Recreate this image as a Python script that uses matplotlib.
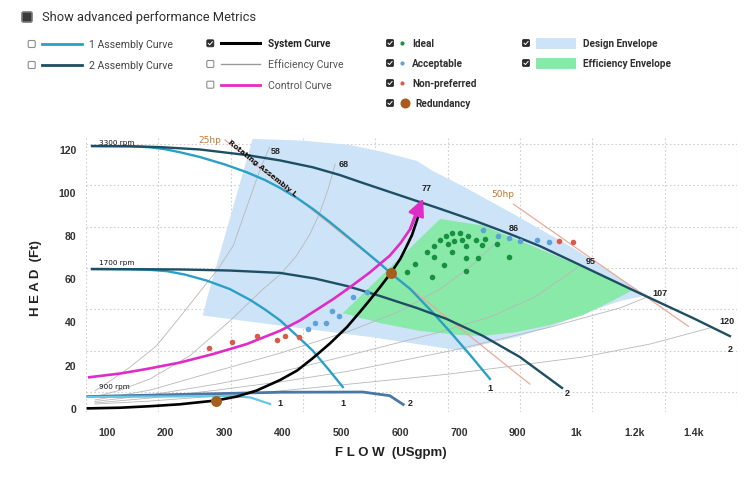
import numpy as np
import matplotlib
matplotlib.use('Agg')
import matplotlib.pyplot as plt
from matplotlib.patches import Polygon, Rectangle, FancyBboxPatch

# x axis: tick labels are evenly spaced although the flow steps are not
tick_flows = [100, 200, 300, 400, 500, 600, 700, 900, 1000, 1200, 1400]
tick_labels = ['100', '200', '300', '400', '500', '600', '700', '900', '1k', '1.2k', '1.4k']
head_ticks = [0, 20, 40, 60, 80, 100, 120]

# pump curves (flow USgpm, head ft)
a2_3300_q = [74, 139, 190, 258, 338, 395, 451, 497, 531, 600, 668, 755, 874, 938, 1013, 1194, 1399, 1525]
a2_3300_h = [121.6, 121.5, 121.1, 120.0, 117.4, 114.9, 111.7, 108.1, 104.9, 98.6, 92.4, 86.8,
             80.7, 75.1, 66.3, 54.6, 41.6, 33.2]
a1_3300_q = [74, 139, 173, 199, 224, 258, 301, 338, 369, 395, 424, 451, 480, 514, 565, 584,
             617, 656, 685, 738, 806]
a1_3300_h = [121.6, 121.5, 121.0, 120.1, 118.7, 116.5, 113.0, 109.4, 105.8, 102.1, 97.4, 92.3,
             86.2, 78.6, 67.0, 62.4, 55.1, 44.0, 35.2, 24.5, 13.3]
a2_1700_q = [74, 224, 309, 395, 454, 509, 565, 628, 679, 782, 904, 976]
a2_1700_h = [64.4, 64.2, 63.7, 62.6, 60.0, 56.5, 51.9, 46.3, 41.2, 33.3, 23.5, 9.1]
a1_1700_q = [74, 139, 173, 202, 233, 270, 309, 344, 369, 395, 424, 451, 477, 502]
a1_1700_h = [64.4, 64.3, 64.0, 63.4, 61.8, 59.0, 55.1, 50.0, 45.6, 40.5, 33.3, 26.3, 17.9, 9.5]
a2_900_q = [67, 395, 536, 582, 605]
a2_900_h = [5.1, 7.1, 7.2, 5.5, 1.4]
a1_900_q = [67, 309, 344, 378]
a1_900_h = [4.9, 5.3, 4.7, 1.6]

system_q = [67, 122, 173, 224, 287, 321, 355, 395, 424, 451, 480, 509, 531, 548, 565, 584,
            600, 611, 620, 628, 637]
system_h = [-0.4, -0.1, 0.6, 1.5, 3.3, 5.1, 7.9, 12.8, 17.2, 23.0, 29.8, 37.4, 44.4, 50.0,
            55.8, 62.6, 69.1, 75.1, 80.2, 86.7, 94.6]
control_q = [67, 122, 167, 224, 281, 338, 395, 429, 486, 514, 548, 582, 600, 617, 631, 639]
control_h = [14.0, 15.8, 17.9, 20.9, 24.9, 29.5, 35.7, 40.5, 50.5, 55.9, 62.8, 70.6, 76.3,
             83.0, 93.9, 97.2]

hp25_q = [301, 921]
hp25_h = [124.4, 10.9]
hp50_q = [886, 1383]
hp50_h = [94.6, 37.8]

# efficiency curves
eff_names = ['58', '68', '86', '95', '107', '120']
eff_q = [
    [377, 366, 355, 335, 315, 289, 264, 224, 184, 139, 110, 79],
    [489, 477, 463, 446, 423, 396, 366, 309, 241, 173, 122, 79],
    [830, 738, 668, 600, 514, 395, 287, 173, 79],
    [1006, 930, 806, 668, 514, 395, 287, 173, 79],
    [1252, 1150, 1013, 956, 685, 514, 395, 287, 173, 79],
    [1457, 1252, 1024, 685, 514, 395, 287, 173, 79],
]
eff_h = [
    [121.0, 114.2, 106.3, 90.9, 75.3, 64.4, 55.9, 42.1, 28.7, 18.8, 13.3, 7.7],
    [113.3, 101.6, 90.8, 80.7, 70.6, 62.1, 55.1, 40.2, 24.1, 13.3, 8.1, 4.9],
    [77.0, 65.3, 55.1, 44.9, 35.6, 25.3, 17.0, 8.1, 3.5],
    [65.3, 51.4, 42.1, 35.1, 24.4, 16.5, 10.9, 5.8, 2.8],
    [51.9, 46.3, 41.2, 37.4, 26.3, 17.0, 11.9, 8.1, 4.4, 2.1],
    [37.0, 29.5, 23.5, 15.6, 10.9, 7.7, 5.3, 3.0, 1.6],
]

# envelopes
design_q = [348, 429, 514, 571, 629, 656, 714, 874, 995, 1218, 1245, 1150, 1013, 956, 898,
            806, 704, 629, 548, 395, 263, 270]
design_h = [124.9, 124.2, 122.1, 118.8, 114.6, 109.9, 102.9, 90.9, 74.2, 54.2, 52.3, 49.5, 43.0,
            37.4, 32.8, 30.0, 26.5, 29.5, 32.8, 38.1, 42.8, 50.5]
green_q = [668, 782, 909, 1013, 1194, 1116, 1024, 956, 898, 782, 704, 634, 565, 502]
green_h = [87.7, 84.6, 77.0, 65.8, 54.6, 49.1, 43.0, 38.4, 35.1, 33.3, 33.7, 35.6, 39.3, 43.9]

# operating points
ideal_q = [611, 625, 645, 658, 654, 658, 667, 678, 689, 681, 692, 689, 675,
           704, 732, 710, 758, 789, 724, 778, 829, 724, 766, 871, 724]
ideal_h = [63.2, 66.7, 72.2, 69.9, 60.6, 75.3, 78.0, 79.6, 81.2, 76.0, 77.6, 72.5, 66.3,
           81.0, 79.9, 77.9, 78.0, 78.4, 75.0, 75.6, 76.0, 69.4, 69.4, 70.1, 63.6]
accept_q = [443, 454, 474, 484, 496, 520, 543, 781, 835, 871, 904, 933, 953]
accept_h = [36.7, 39.3, 39.3, 45.0, 42.4, 51.3, 53.9, 82.7, 79.6, 78.8, 77.6, 77.9, 76.8]
nonpref_q = [274, 313, 355, 390, 404, 428, 970, 995]
nonpref_h = [27.7, 30.6, 33.4, 31.5, 33.1, 33.0, 77.3, 76.8]
redund_q = [584, 286]
redund_h = [62.4, 3.2]

C_DARK = '#1d4e63'
C_CYAN = '#2aa0c6'
C_900_2 = '#4a78a6'
C_900_1 = '#6cc6e2'
C_MAG = '#df2cc6'
C_HP = '#eba99a'
C_EFF = '#b8b8b8'
C_DESIGN = '#cde3f8'
C_GREEN = '#88e9a8'
C_IDEAL = '#17913f'
C_ACC = '#5ba3d9'
C_NON = '#d75a4b'
C_RED = '#a65d1d'
C_TXT = '#2f2f2f'

pos = np.arange(len(tick_flows), dtype=float)


def fwd(q):
    q = np.asarray(q, dtype=float)
    p = np.interp(q, tick_flows, pos)
    p = np.where(q < tick_flows[0], (q - 100) / 100.0, p)
    p = np.where(q > tick_flows[-1], 10 + (q - 1400) / 200.0, p)
    return p


def inv(p):
    p = np.asarray(p, dtype=float)
    q = np.interp(p, pos, tick_flows)
    q = np.where(p < 0, 100 + 100 * p, q)
    q = np.where(p > 10, 1400 + 200 * (p - 10), q)
    return q


fig = plt.figure(figsize=(7.52, 4.85), dpi=100)
ax = fig.add_axes([86 / 752, 72 / 485, 651 / 752, 275 / 485])
ax.set_xscale('function', functions=(fwd, inv))
ax.set_xlim(float(inv(-0.363)), float(inv(10.746)))
ax.set_ylim(-2.09, 125.8)

ax.set_xticks(tick_flows)
ax.set_xticklabels(tick_labels)
ax.set_yticks(head_ticks)
ax.set_xticks(inv(np.linspace(-0.363, 10.746, 10)), minor=True)
ax.set_yticks(np.linspace(122.6, 7.2, 7), minor=True)
ax.tick_params(which='both', length=0)
ax.tick_params(axis='x', pad=11)
ax.tick_params(axis='y', pad=7)
for lab in ax.get_xticklabels() + ax.get_yticklabels():
    lab.set_fontfamily('Liberation Sans')
    lab.set_fontweight('bold')
    lab.set_fontsize(7.6)
    lab.set_color('#333333')
ax.grid(which='minor', color='#cfcfcf', linestyle=(0, (1.5, 2)), linewidth=0.8)
ax.grid(which='major', visible=False)
ax.set_axisbelow(True)
for s in ax.spines.values():
    s.set_visible(False)

# envelopes
ax.add_patch(Polygon(np.column_stack([design_q, design_h]), closed=True,
                     facecolor=C_DESIGN, edgecolor='none', zorder=1))
ax.add_patch(Polygon(np.column_stack([green_q, green_h]), closed=True,
                     facecolor=C_GREEN, edgecolor='none', zorder=1.2))

# efficiency curves and hp lines
for q, h in zip(eff_q, eff_h):
    ax.plot(q, h, color=C_EFF, lw=0.6, zorder=2)
ax.plot(hp25_q, hp25_h, color=C_HP, lw=0.9, zorder=2)
ax.plot(hp50_q, hp50_h, color=C_HP, lw=0.9, zorder=2)

# pump curves
ax.plot(a2_900_q, a2_900_h, color=C_900_2, lw=2.0, zorder=3)
ax.plot(a1_900_q, a1_900_h, color=C_900_1, lw=1.6, zorder=3)
ax.plot(a1_1700_q, a1_1700_h, color=C_CYAN, lw=1.7, zorder=3)
ax.plot(a2_1700_q, a2_1700_h, color=C_DARK, lw=1.7, zorder=3.1)
ax.plot(a1_3300_q, a1_3300_h, color=C_CYAN, lw=1.7, zorder=3)
ax.plot(a2_3300_q, a2_3300_h, color=C_DARK, lw=1.7, zorder=3.1)

# system and control curves
ax.plot(system_q, system_h, color='black', lw=1.9, zorder=4)
ax.plot(control_q[:-1], control_h[:-1], color=C_MAG, lw=1.9, zorder=4, solid_capstyle='butt')
ax.annotate('', xy=(control_q[-1], control_h[-1]), xytext=(control_q[-3], control_h[-3]),
            arrowprops=dict(arrowstyle='-|>,head_length=0.95,head_width=0.45', color=C_MAG,
                            lw=1.9, mutation_scale=11, shrinkA=0, shrinkB=0), zorder=4.5)

# points
ax.scatter(ideal_q, ideal_h, s=16, color=C_IDEAL, zorder=5, linewidths=0)
ax.scatter(accept_q, accept_h, s=16, color=C_ACC, zorder=5, linewidths=0)
ax.scatter(nonpref_q, nonpref_h, s=16, color=C_NON, zorder=5, linewidths=0)
ax.scatter(redund_q, redund_h, s=62, color=C_RED, zorder=6, linewidths=0)

# curve labels
lbl = dict(fontsize=6.5, fontweight='bold', color='#222222', ha='center', va='center',
           zorder=7, family='Liberation Sans')
eff_lbl_pos = [(388, 119.4), (504, 113.6), (888, 83.8), (1050, 68.3), (1286, 53.6), (1514, 40.4)]
for name, (x, y) in zip(eff_names, eff_lbl_pos):
    ax.text(x, y, name, **lbl)
ax.text(645.6, 102.1, '77', **lbl)
for x, y, t in [(806, 9.5, '1'), (501.7, 2.4, '1'), (394.7, 2.1, '1'),
                (984.5, 7.2, '2'), (616.6, 2.1, '2'), (1527.6, 27.5, '2')]:
    ax.text(x, y, t, **lbl)
for y, t in [(123.6, '3300 rpm'), (67.8, '1700 rpm'), (9.9, '900 rpm')]:
    ax.text(85.8, y, t, fontsize=5.2, color='#111111', ha='left', va='center', zorder=7)
ax.text(275.3, 124.6, '25hp', fontsize=6.5, color='#c07b30', ha='center', va='center',
        zorder=7, clip_on=False)
ax.text(851.5, 99.3, '50hp', fontsize=6.5, color='#c07b30', ha='center', va='center', zorder=7)
ax.text(307.7, 123.9, 'Rotating Assembly L', fontsize=5.3, fontweight='bold', color='#111111',
        rotation=-38.7, rotation_mode='anchor', ha='left', va='center', zorder=7)

fig.text(390.5 / 752, 1 - 453 / 485, 'F L O W  (USgpm)', fontsize=9.5, fontweight='bold',
         family='Liberation Sans', color='#222222', ha='center', va='center')
fig.text(36 / 752, 1 - 278 / 485, 'H E A D  (Ft)', fontsize=9.5, fontweight='bold',
         family='Liberation Sans', color='#222222', ha='center', va='center', rotation=90)

# legend panel drawn in pixel units
ov = fig.add_axes([0, 0, 1, 1])
ov.set_xlim(0, 752)
ov.set_ylim(485, 0)
ov.axis('off')


def checkbox(x, y, checked, size=7.0):
    if checked:
        ov.add_patch(FancyBboxPatch((x - size / 2, y - size / 2), size, size,
                                    boxstyle='round,pad=0,rounding_size=1.2',
                                    fc='#2b2b2b', ec='#2b2b2b', lw=0.6))
        ov.plot([x - 2, x - 0.6, x + 2.1], [y + 0.1, y + 1.6, y - 1.5], color='white', lw=0.7)
    else:
        ov.add_patch(FancyBboxPatch((x - size / 2, y - size / 2), size, size,
                                    boxstyle='round,pad=0,rounding_size=1.2',
                                    fc='white', ec='#8c8c8c', lw=0.8))


reg = dict(fontsize=7.6, va='center', ha='left', family='Roboto')
bld = dict(fontsize=7.2, va='center', ha='left', family='Roboto', fontweight='bold')
ov.add_patch(FancyBboxPatch((22, 13), 10, 10, boxstyle='round,pad=0,rounding_size=1.5',
                            fc='#3a3a3a', ec='#777777', lw=1.2))
ov.text(42, 18, 'Show advanced performance Metrics', fontsize=9.3, color=C_TXT,
        va='center', ha='left', family='Roboto')

checkbox(31.7, 45, False)
ov.plot([41.7, 81.7], [45, 45], color=C_CYAN, lw=2)
ov.text(89.3, 45, '1 Assembly Curve', color='#444444', **reg)
checkbox(31.7, 66, False)
ov.plot([41.7, 81.7], [66, 66], color=C_DARK, lw=2)
ov.text(89.3, 66, '2 Assembly Curve', color='#444444', **reg)

checkbox(210.3, 44.3, True)
ov.plot([220.7, 260], [44.3, 44.3], color='black', lw=2.2)
ov.text(268.3, 44.3, 'System Curve', color='#222222', **bld)
checkbox(210.3, 65, False)
ov.plot([220.7, 260], [65, 65], color='#9a9a9a', lw=1)
ov.text(268.3, 65, 'Efficiency Curve', color='#555555', **reg)
checkbox(210.3, 85.7, False)
ov.plot([220.7, 260], [85.7, 85.7], color=C_MAG, lw=2)
ov.text(268.3, 85.7, 'Control Curve', color='#555555', **reg)

for y, c, t in [(44, C_IDEAL, 'Ideal'), (64, C_ACC, 'Acceptable'), (84, C_NON, 'Non-preferred')]:
    checkbox(390, y, True)
    ov.scatter([402.3], [y], s=9, color=c, linewidths=0)
    ov.text(412.3, y, t, color=C_TXT, **bld)
checkbox(390, 104, True)
ov.scatter([404.7], [104], s=52, color=C_RED, linewidths=0)
ov.text(415, 104, 'Redundancy', color=C_TXT, **bld)

for y, c, t in [(44, C_DESIGN, 'Design Envelope'), (64, C_GREEN, 'Efficiency Envelope')]:
    checkbox(526, y, True)
    ov.add_patch(Rectangle((536, y - 5.5), 40, 11, fc=c, ec='none'))
    ov.text(583.3, y, t, color=C_TXT, **bld)

fig.savefig('out.png', dpi=100)
